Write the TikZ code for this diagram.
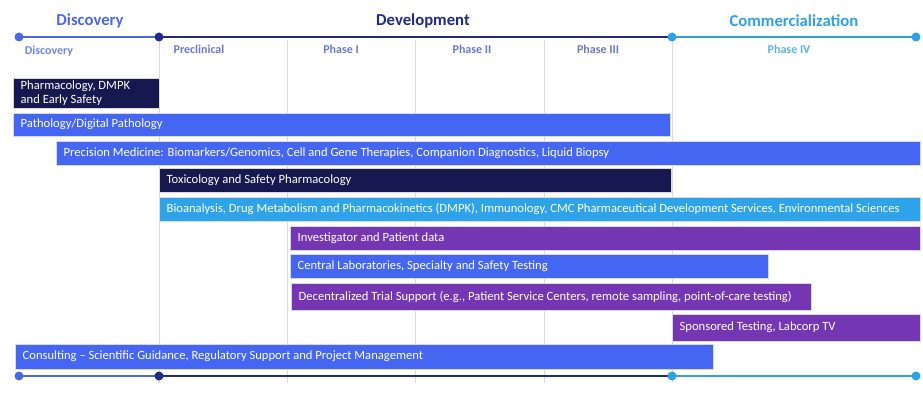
\documentclass[tikz,border=0pt]{standalone}
\usepackage{fontspec}
\setmainfont{Carlito}
\definecolor{cblue}{HTML}{4466F2}
\definecolor{cnavy}{HTML}{161850}
\definecolor{clight}{HTML}{2EA3EA}
\definecolor{cpurple}{HTML}{7536B4}
\definecolor{tdisc}{HTML}{4A68E6}
\definecolor{tdev}{HTML}{1F2A8C}
\definecolor{tcom}{HTML}{2EA0E6}
\definecolor{sublab}{HTML}{6A78C8}
\definecolor{gridg}{HTML}{DADADA}
\tikzset{
  barbox/.style={draw=white!85!black, line width=0.4pt, inner sep=0pt, anchor=north west},
  bartext/.style={text=white, font=\fontsize{12.6}{14}\selectfont, inner sep=0pt, anchor=west, align=left},
  dotnode/.style={circle, inner sep=0pt, minimum size=9pt},
  tline/.style={line width=2.6pt},
  header/.style={font=\fontsize{16.7}{19}\selectfont\bfseries},
  sub/.style={font=\fontsize{12}{14}\selectfont\bfseries, text=sublab},
  gridline/.style={draw=gridg, line width=0.6pt}
}
\newcommand\gbar[7]{%
  \node[barbox, fill=#6, minimum width={#4-#2}, minimum height={#5-#3}] (#1) at (#2,#3) {};
  \node[bartext] (#1t) at ([xshift=7.5pt]#1.west) {#7};}
\begin{document}
\begin{tikzpicture}[x=1pt,y=-1pt]
\useasboundingbox (0,0) rectangle (923,398);
% grid lines
\foreach \gx [count=\i] in {159,287,415,544,672}{
  \coordinate (gt\i) at (\gx,40);
  \coordinate (gb\i) at (\gx,383);
  \draw[gridline] (gt\i) -- (gb\i);
}
% headers
\node[header, text=tdisc] (hdisc) at (90,21) {Discovery};
\node[header, text=tdev] (hdev) at (423,21) {Development};
\node[header, text=tcom] (hcom) at (794,21) {Commercialization};
% sub labels
\node[sub, text=tdisc!80!white] (sdisc) at (49,51) {Discovery};
\node[sub] (spre) at (199,49) {Preclinical};
\node[sub] (sp1) at (341,49) {Phase I};
\node[sub] (sp2) at (472,49) {Phase II};
\node[sub] (sp3) at (598,49) {Phase III};
\node[sub, text=tcom!80!white] (sp4) at (789,49) {Phase IV};
% timelines
\foreach \ty/\nm in {37/t,376/b}{
  \coordinate (\nm1) at (19,\ty);
  \coordinate (\nm2) at (159,\ty);
  \coordinate (\nm3) at (672,\ty);
  \coordinate (\nm4) at (916,\ty);
  \draw[tline, tdisc] (\nm1) -- (\nm2);
  \draw[tline, tdev] (\nm2) -- (\nm3);
  \draw[tline, tcom] (\nm3) -- (\nm4);
  \node[dotnode, fill=tdisc] (\nm d1) at (\nm1) {};
  \node[dotnode, fill=tdev] (\nm d2) at (\nm2) {};
  \node[dotnode, fill=tcom] (\nm d3) at (\nm3) {};
  \node[dotnode, fill=tcom] (\nm d4) at (\nm4) {};
}
% bars
\gbar{b1}{13}{78}{159}{108}{cnavy}{Pharmacology, DMPK\\and Early Safety}
\gbar{b2}{13}{113}{670}{136}{cblue}{Pathology/Digital Pathology}
\gbar{b3}{56}{141}{920}{165}{cblue}{Precision Medicine: Biomarkers/Genomics, Cell and Gene Therapies, Companion Diagnostics, Liquid Biopsy}
\gbar{b4}{159}{168}{671}{192}{cnavy}{Toxicology and Safety Pharmacology}
\gbar{b5}{159}{197}{920}{221}{clight}{Bioanalysis, Drug Metabolism and Pharmacokinetics (DMPK), Immunology, CMC Pharmaceutical Development Services, Environmental Sciences}
\gbar{b6}{290}{226}{920}{250}{cpurple}{Investigator and Patient data}
\gbar{b7}{290}{254}{768}{278}{cblue}{Central Laboratories, Specialty and Safety Testing}
\gbar{b8}{291}{283}{811}{310}{cpurple}{Decentralized Trial Support (e.g., Patient Service Centers, remote sampling, point-of-care testing)}
\gbar{b9}{672}{314}{920}{341}{cpurple}{Sponsored Testing, Labcorp TV}
\gbar{b10}{15}{344}{713}{369}{cblue}{Consulting -- Scientific Guidance, Regulatory Support and Project Management}
\end{tikzpicture}
\end{document}
